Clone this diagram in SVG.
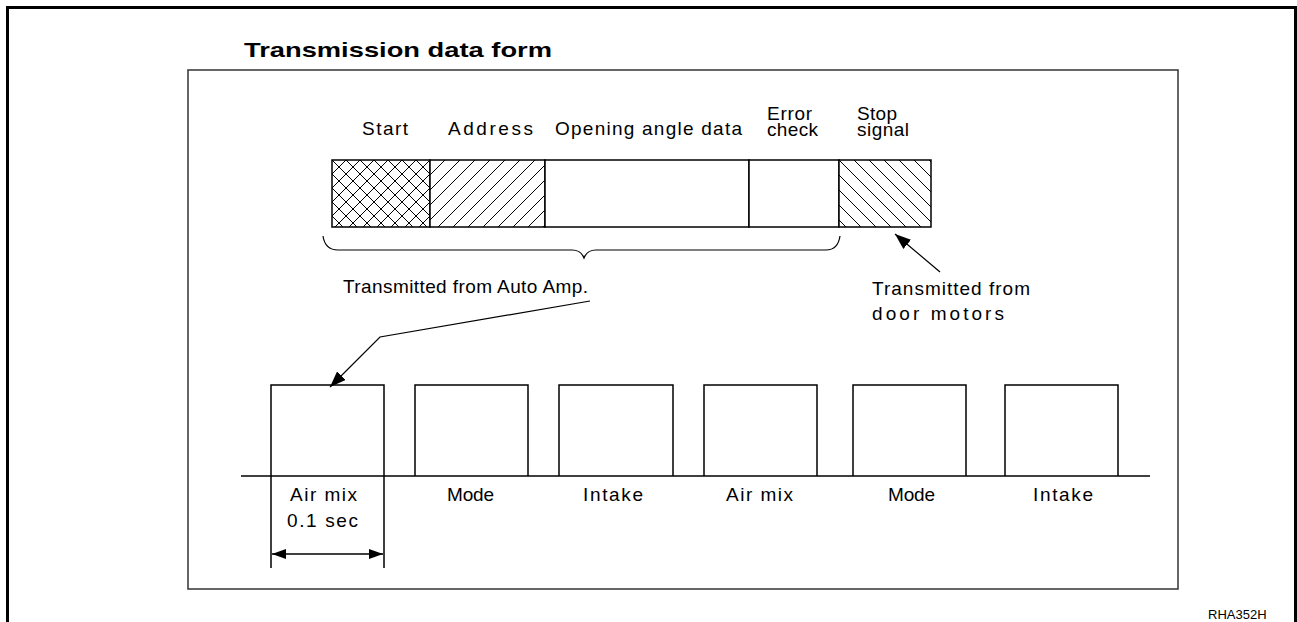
<svg xmlns="http://www.w3.org/2000/svg" width="1297" height="622" viewBox="0 0 1297 622">
<style>
text{font-family:"Liberation Sans",Arial,sans-serif;font-size:19px;fill:#000}
.title{font-size:21px;font-weight:bold}
.code{font-size:13px}
.ln{stroke:#000;stroke-width:1.5;fill:none}
.cell{stroke:#000;stroke-width:1.5}
.thin{stroke:#000;stroke-width:1.2;fill:none}
</style>
<defs>
<pattern id="cross" x="332" y="160" width="14" height="14" patternUnits="userSpaceOnUse">
<rect width="14" height="14" fill="#fff"/>
<path d="M-1,15 L15,-1 M-1,1 L1,-1 M13,15 L15,13 M-1,-1 L15,15 M-1,13 L1,15 M13,-1 L15,1" stroke="#000" stroke-width="1"/>
</pattern>
<pattern id="fwd" x="430" y="160" width="15" height="15" patternUnits="userSpaceOnUse">
<rect width="15" height="15" fill="#fff"/>
<path d="M-1,16 L16,-1 M-1,1 L1,-1 M14,16 L16,14" stroke="#000" stroke-width="1"/>
</pattern>
<pattern id="bwd" x="839" y="160" width="15" height="15" patternUnits="userSpaceOnUse">
<rect width="15" height="15" fill="#fff"/>
<path d="M-1,-1 L16,16 M-1,14 L1,16 M14,-1 L16,1" stroke="#000" stroke-width="1"/>
</pattern>
<marker id="ah" viewBox="0 0 16 12" refX="16" refY="6" markerWidth="16" markerHeight="12" markerUnits="userSpaceOnUse" orient="auto">
<path d="M0,0 L16,6 L0,12 Z" fill="#000"/>
</marker>
<marker id="dh" viewBox="0 0 14 10" refX="14" refY="5" markerWidth="14" markerHeight="10" markerUnits="userSpaceOnUse" orient="auto-start-reverse">
<path d="M0,0 L14,5 L0,10 Z" fill="#000"/>
</marker>
</defs>

<g id="frame">
<path d="M7.5,622 L7.5,7.5 L1295.5,7.5 L1295.5,622" fill="none" stroke="#000" stroke-width="3"/>
<rect x="188" y="70" width="990" height="519" fill="none" stroke="#333" stroke-width="1.5"/>
<text class="title" x="244" y="57" textLength="308" lengthAdjust="spacingAndGlyphs">Transmission data form</text>
<text class="code" x="1208" y="619">RHA352H</text>
</g>

<g id="data-form">
<g id="start"><rect x="332" y="160" width="98" height="67" fill="url(#cross)" class="cell"/><text x="362" y="135" textLength="46" lengthAdjust="spacing">Start</text></g>
<g id="address"><rect x="430" y="160" width="115" height="67" fill="url(#fwd)" class="cell"/><text x="448" y="135" textLength="85" lengthAdjust="spacing">Address</text></g>
<g id="opening"><rect x="545" y="160" width="204" height="67" fill="#fff" class="cell"/><text x="555" y="135" textLength="187" lengthAdjust="spacing">Opening angle data</text></g>
<g id="error"><rect x="749" y="160" width="90" height="67" fill="#fff" class="cell"/><text x="767" y="120" textLength="45" lengthAdjust="spacing">Error</text><text x="767" y="136" textLength="51" lengthAdjust="spacing">check</text></g>
<g id="stop"><rect x="839" y="160" width="92" height="67" fill="url(#bwd)" class="cell"/><text x="857" y="120" textLength="40" lengthAdjust="spacing">Stop</text><text x="857" y="136" textLength="52" lengthAdjust="spacing">signal</text></g>
</g>

<g id="labels">
<text x="343" y="293" textLength="245" lengthAdjust="spacing">Transmitted from Auto Amp.</text>
<text x="872" y="295" textLength="158" lengthAdjust="spacing">Transmitted from</text>
<text x="872" y="320" textLength="132" lengthAdjust="spacing">door motors</text>
</g>

<g id="timeline">
<line x1="241" y1="476" x2="1150" y2="476" class="ln"/>
<g id="box1"><path d="M271,568 L271,385 L384,385 L384,568" class="ln"/><text x="290" y="501" textLength="67" lengthAdjust="spacing">Air mix</text><text x="287" y="527" textLength="71" lengthAdjust="spacing">0.1 sec</text></g>
<g id="box2"><path d="M415,476 L415,385 L528,385 L528,476" class="ln"/><text x="447" y="501" textLength="47" lengthAdjust="spacing">Mode</text></g>
<g id="box3"><path d="M559,476 L559,385 L673,385 L673,476" class="ln"/><text x="583" y="501" textLength="60" lengthAdjust="spacing">Intake</text></g>
<g id="box4"><path d="M704,476 L704,385 L817,385 L817,476" class="ln"/><text x="726" y="501" textLength="67" lengthAdjust="spacing">Air mix</text></g>
<g id="box5"><path d="M853,476 L853,385 L966,385 L966,476" class="ln"/><text x="888" y="501" textLength="47" lengthAdjust="spacing">Mode</text></g>
<g id="box6"><path d="M1005,476 L1005,385 L1118,385 L1118,476" class="ln"/><text x="1033" y="501" textLength="60" lengthAdjust="spacing">Intake</text></g>
</g>

<g id="connectors">
<path d="M323,236 Q325,250 338,250 L572,250 Q581,250 584,258 Q587,250 596,250 L826,250 Q838,250 840,236" class="thin"/>
<path d="M590,301 L380,337 L330,387" class="thin" marker-end="url(#ah)"/>
<line x1="940" y1="272" x2="895" y2="234" class="thin" marker-end="url(#ah)"/>
<line x1="272" y1="554" x2="383" y2="554" class="ln" marker-start="url(#dh)" marker-end="url(#dh)"/>
</g>
</svg>
